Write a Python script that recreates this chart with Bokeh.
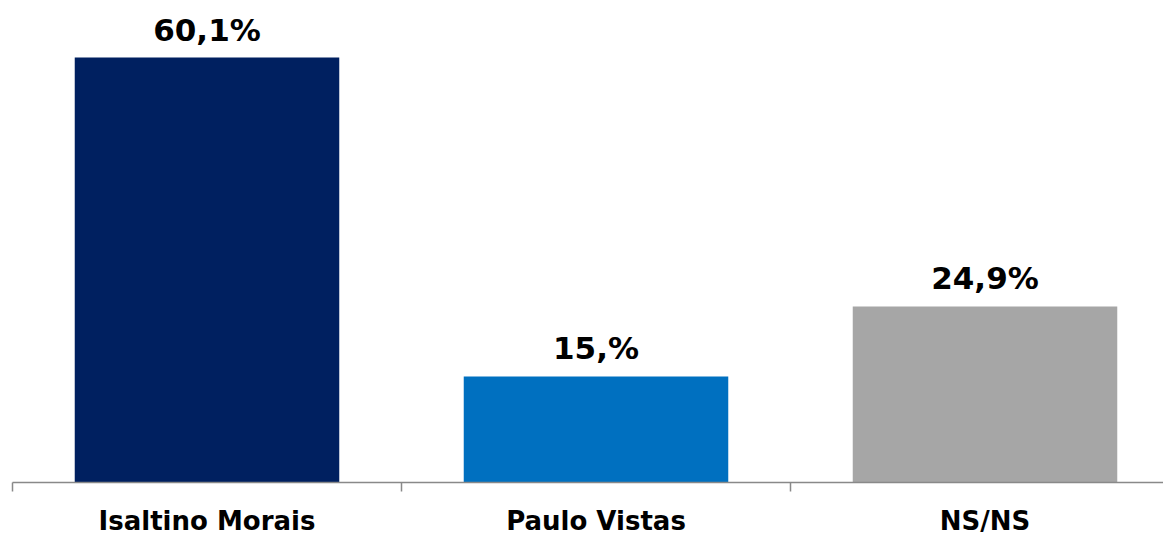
from bokeh.plotting import figure
from bokeh.models import ColumnDataSource, Range1d, FixedTicker, LabelSet
from bokeh.core.properties import value
from bokeh.embed import file_html
from bokeh.resources import INLINE

categories = ["Isaltino Morais", "Paulo Vistas", "NS/NS"]
values = [60.1, 15.0, 24.9]
value_labels = ["60,1%", "15,%", "24,9%"]
colors = ["#002060", "#0070C0", "#A6A6A6"]

centers = [i + 0.5 for i in range(len(categories))]
bounds = list(range(len(categories) + 1))

src = ColumnDataSource(dict(x=centers, top=values, label=value_labels, color=colors))

p = figure(frame_width=1151, frame_height=474, output_backend="svg", toolbar_location=None,
           x_range=Range1d(0, 1151 / 389), y_range=Range1d(0, 67.04),
           y_axis_location=None, min_border_left=12, min_border_right=0,
           min_border_top=8, min_border_bottom=0)
p.outline_line_color = None
p.xgrid.visible = False
p.ygrid.visible = False

p.vbar(x="x", top="top", bottom=0, width=0.68, color="color", line_color=None, source=src)

labels = LabelSet(x="x", y="top", text="label", source=src, text_align="center",
                  text_baseline="alphabetic", y_offset=17,
                  text_font=value("DejaVu Sans"), text_font_style="bold",
                  text_font_size="31px", text_color="#000000")
p.add_layout(labels)

ax = p.xaxis[0]
ax.ticker = FixedTicker(ticks=centers, minor_ticks=bounds)
ax.major_label_overrides = {c: n for c, n in zip(centers, categories)}
ax.major_tick_line_color = None
ax.major_tick_out = 0
ax.major_tick_in = 0
ax.minor_tick_out = 9
ax.minor_tick_in = 0
ax.minor_tick_line_color = "#898989"
ax.minor_tick_line_width = 1.5
ax.axis_line_color = "#898989"
ax.axis_line_width = 1.5
ax.major_label_text_font = "DejaVu Sans"
ax.major_label_text_font_style = "bold"
ax.major_label_text_font_size = "26px"
ax.major_label_text_color = "#000000"
ax.major_label_standoff = 14

open("out.html", "w").write(file_html(p, INLINE))
